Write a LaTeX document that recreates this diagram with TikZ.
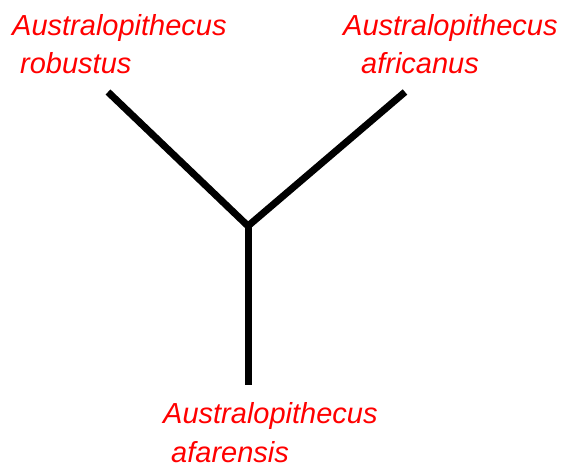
\documentclass[tikz,border=0pt]{standalone}
\usepackage{fontspec}
\setmainfont{Liberation Sans}
\begin{document}
\begin{tikzpicture}[x=1pt,y=-1pt,
  lbl/.style={anchor=base west,inner sep=0pt,text=red,font=\fontsize{29}{34}\selectfont\itshape},
  branch/.style={line width=7pt,black,line cap=butt}]
\useasboundingbox (0,0) rectangle (563,465);
\coordinate (j) at (248,226);
\coordinate (l) at (108,92);
\coordinate (r) at (405,92);
\coordinate (b) at (248,385);
\draw[branch] (l) -- (j) -- (r);
\draw[branch] (j) -- (b);
\node[lbl] (t1) at (12,36) {Australopithecus};
\node[lbl] (t2) at (20,74) {robustus};
\node[lbl] (t3) at (343,36) {Australopithecus};
\node[lbl] (t4) at (361,74) {africanus};
\node[lbl] (t5) at (163,424) {Australopithecus};
\node[lbl] (t6) at (171,462) {afarensis};
\end{tikzpicture}
\end{document}
